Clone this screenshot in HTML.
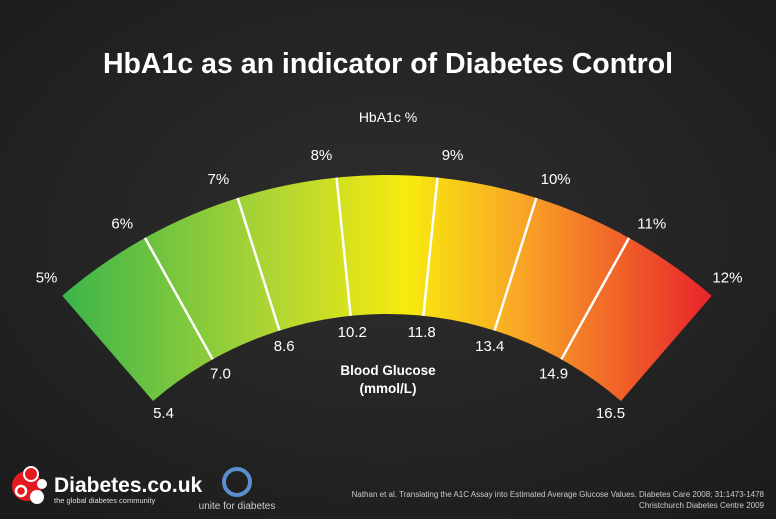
<!DOCTYPE html>
<html><head><meta charset="utf-8"><style>
html,body{margin:0;padding:0;background:#262626;}
svg{display:block;font-family:"Liberation Sans",sans-serif;}
</style></head><body>
<svg width="776" height="519" viewBox="0 0 776 519">
<defs>
<radialGradient id="bg" cx="50%" cy="45%" r="70%"><stop offset="0" stop-color="#2e2e2e"/><stop offset="1" stop-color="#1c1c1c"/></radialGradient>
<linearGradient id="arcg" gradientUnits="userSpaceOnUse" x1="62" y1="0" x2="712" y2="0">
<stop offset="0" stop-color="#3bb54a"/><stop offset="0.3" stop-color="#a6d336"/><stop offset="0.53" stop-color="#f7ea0f"/><stop offset="0.7" stop-color="#f9a825"/><stop offset="1" stop-color="#e8232b"/>
</linearGradient>
</defs>
<rect width="776" height="519" fill="url(#bg)"/>
<text x="388" y="73" text-anchor="middle" fill="#fff" font-size="28.5" font-weight="bold">HbA1c as an indicator of Diabetes Control</text>
<text x="388" y="122" text-anchor="middle" fill="#fff" font-size="14">HbA1c %</text>
<path id="band" fill="url(#arcg)"/>
<g id="marks"></g>
<text x="388" y="375" text-anchor="middle" fill="#fff" font-size="13.5" font-weight="bold">Blood Glucose</text>
<text x="388" y="393" text-anchor="middle" fill="#fff" font-size="13.5" font-weight="bold">(mmol/L)</text>
<g>
<circle cx="27" cy="486" r="15" fill="#e21a22"/><circle cx="31" cy="474" r="7" fill="#e21a22" stroke="#fff" stroke-width="2"/><circle cx="42" cy="484" r="5" fill="#fff"/><circle cx="21" cy="491" r="5" fill="#e21a22" stroke="#fff" stroke-width="2.5"/><circle cx="37" cy="497" r="7" fill="#fff"/>
<text x="54" y="492" fill="#fff" font-size="21" font-weight="bold">Diabetes.co.uk</text>
<text x="54" y="503" fill="#ddd" font-size="7.5">the global diabetes community</text>
</g>
<g>
<circle cx="237" cy="482" r="13" fill="none" stroke="#5b8fd0" stroke-width="4"/>
<text x="237" y="509" text-anchor="middle" fill="#ccc" font-size="10">unite for diabetes</text>
</g>
<text x="764" y="497" text-anchor="end" fill="#ccc" font-size="8">Nathan et al. Translating the A1C Assay into Estimated Average Glucose Values. Diabetes Care 2008; 31:1473-1478</text>
<text x="764" y="508" text-anchor="end" fill="#ccc" font-size="8">Christchurch Diabetes Centre 2009</text>
</svg>
<script>
const hba1cValues=[5,6,7,8,9,10,11,12];
const hba1cLabels=["5%","6%","7%","8%","9%","10%","11%","12%"];
const glucoseLabels=["5.4","7.0","8.6","10.2","11.8","13.4","14.9","16.5"];
const CX=387,CY=672,RO=497,RI=358,A0=-40.8,A1=40.8;
function ang(v){return (A0+(v-5)/7*(A1-A0))*Math.PI/180;}
function pt(a,r){return [CX+r*Math.sin(a),CY-r*Math.cos(a)];}
const ns="http://www.w3.org/2000/svg";
const a0=ang(hba1cValues[0]),a1=ang(hba1cValues[hba1cValues.length-1]);
const o0=pt(a0,RO),o1=pt(a1,RO),i1=pt(a1,RI),i0=pt(a0,RI);
document.getElementById('band').setAttribute('d',`M${o0}A${RO},${RO} 0 0 1 ${o1}L${i1}A${RI},${RI} 0 0 0 ${i0}Z`);
const g=document.getElementById('marks');
const last=hba1cValues.length-1;
hba1cValues.forEach((v,i)=>{
 const a=ang(v);
 const inner=i>0&&i<last;
 if(inner){
  const p=pt(a,RO),q=pt(a,RI);
  const l=document.createElementNS(ns,'line');
  l.setAttribute('x1',p[0]);l.setAttribute('y1',p[1]);l.setAttribute('x2',q[0]);l.setAttribute('y2',q[1]);
  l.setAttribute('stroke','#fff');l.setAttribute('stroke-width','2.5');
  
  
  g.appendChild(l);
 }
 const la=a+(inner?Math.sign(a)*1.4*Math.PI/180:0);
 const t=pt(la,521);
 const tx=document.createElementNS(ns,'text');
 tx.setAttribute('x',t[0]);tx.setAttribute('y',t[1]+5);tx.setAttribute('text-anchor','middle');
 tx.setAttribute('fill','#fff');tx.setAttribute('font-size','15');tx.textContent=hba1cLabels[i];
 
 
 g.appendChild(tx);
 const s=pt(a,342);
 const gx=document.createElementNS(ns,'text');
 gx.setAttribute('x',s[0]);gx.setAttribute('y',s[1]+5);gx.setAttribute('text-anchor','middle');
 gx.setAttribute('fill','#fff');gx.setAttribute('font-size','15');gx.textContent=glucoseLabels[i];
 
 
 g.appendChild(gx);
});
</script>
</body></html>
